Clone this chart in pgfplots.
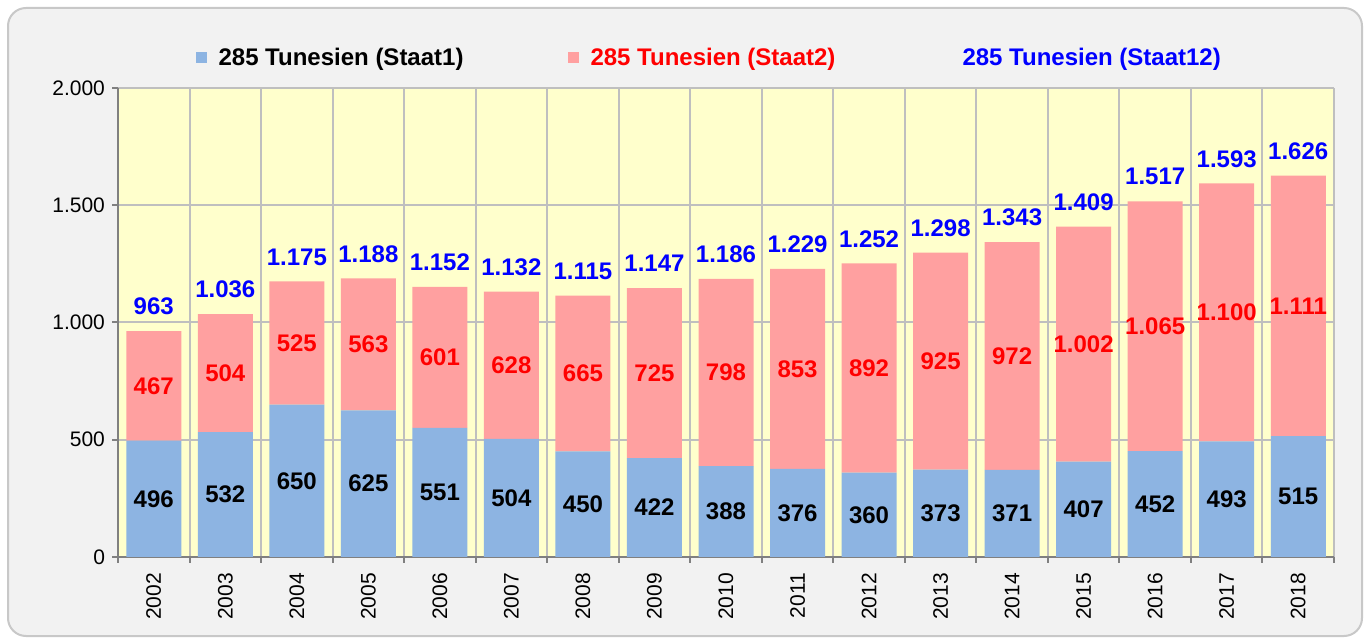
\documentclass[border=0pt]{standalone}
\usepackage{pgfplots}
\pgfplotsset{compat=1.18}
\usepackage{fontspec}
\setmainfont{Liberation Sans}

\definecolor{barblue}{RGB}{141,180,226}
\definecolor{barpink}{RGB}{255,160,160}
\definecolor{bgyellow}{RGB}{255,255,204}
\definecolor{outergray}{RGB}{242,242,242}
\definecolor{framegray}{RGB}{200,200,200}
\definecolor{gridgray}{RGB}{191,191,191}
\definecolor{axisgray}{RGB}{128,128,128}
\definecolor{lblblue}{RGB}{0,0,255}
\definecolor{lblred}{RGB}{255,0,0}

\pgfplotsset{
  sq legend/.style={legend image code/.code={\fill[##1] (0pt,-2.75pt) rectangle (5.5pt,2.75pt);}},
  no legend img/.style={legend image code/.code={\path[draw=none,fill=none] (0pt,-2.75pt) rectangle (5.5pt,2.75pt);}},
  frame axis/.style={
    at={(59pt,42.5pt)}, anchor=south west,
    scale only axis,
    width=608pt, height=234.5pt,
    xmin=-0.5, xmax=16.5,
    ymin=0, ymax=2000,
  },
}

\begin{document}
\begin{tikzpicture}
\useasboundingbox (0,0) rectangle (684.5pt,321pt);
\draw[framegray, line width=1pt, fill=outergray, rounded corners=9pt] (4pt,3pt) rectangle (681pt,317pt);
\begin{axis}[
    frame axis,
    ybar stacked,
    bar width=27.5pt,
    axis x line*=bottom,
    axis y line*=left,
    axis line style={-, draw=axisgray, line width=1pt},
    axis background/.style={fill=bgyellow},
    ytick={0,500,1000,1500,2000},
    xtick={-0.5,0.5,...,16.5},
    xticklabels={},
    extra x ticks={0,1,...,16},
    extra x tick labels={2002,2003,2004,2005,2006,2007,2008,2009,2010,2011,2012,2013,2014,2015,2016,2017,2018},
    extra x tick style={major tick length=0pt, xmajorgrids=false,
        xticklabel shift=4.5pt,
        xticklabel style={rotate=90, anchor=east}},
    grid=major,
    grid style={gridgray, line width=1pt},
    tick align=outside,
    major tick length=3pt,
    tick style={axisgray, line width=1pt},
    ticklabel style={font=\fontsize{10.5}{12}\selectfont, black},
    /pgf/number format/.cd, 1000 sep={.}, assume math mode=true,
    /pgfplots/.cd,
    legend columns=3,
    legend style={at={(0.487,1.064)}, anchor=center, draw=none, fill=none,
        font=\bfseries\fontsize{12}{14}\selectfont,
        /tikz/every odd column/.append style={column sep=4pt},
        /tikz/every even column/.append style={column sep=50pt}},
]

% Staat1 (bottom)
\addplot[fill=barblue, draw=none, sq legend,
    nodes near coords,
    every node near coord/.append style={black, anchor=center,
        font=\bfseries\fontsize{12}{14}\selectfont}]
coordinates {
    (0,496) (1,532) (2,650) (3,625) (4,551) (5,504) (6,450) (7,422) (8,388)
    (9,376) (10,360) (11,373) (12,371) (13,407) (14,452) (15,493) (16,515)
};
\addlegendentry{285 Tunesien (Staat1)}

% Staat2 (top)
\addplot[fill=barpink, draw=none, sq legend,
    nodes near coords,
    every node near coord/.append style={lblred, anchor=center,
        font=\bfseries\fontsize{12}{14}\selectfont}]
coordinates {
    (0,467) (1,504) (2,525) (3,563) (4,601) (5,628) (6,665) (7,725) (8,798)
    (9,853) (10,892) (11,925) (12,972) (13,1002) (14,1065) (15,1100) (16,1111)
};
\addlegendentry{\textcolor{lblred}{285 Tunesien (Staat2)}}

\addlegendimage{no legend img}
\addlegendentry{\textcolor{lblblue}{285 Tunesien (Staat12)}}
\end{axis}

% Staat12 totals (labels only)
\begin{axis}[
    frame axis,
    hide axis,
    /pgf/number format/.cd, 1000 sep={.}, assume math mode=true,
]
\addplot[draw=none, mark=none,
    nodes near coords,
    every node near coord/.append style={lblblue, anchor=south,
        font=\bfseries\fontsize{12}{14}\selectfont, yshift=4.5pt}]
coordinates {
    (0,963) (1,1036) (2,1175) (3,1188) (4,1152) (5,1132) (6,1115) (7,1147) (8,1186)
    (9,1229) (10,1252) (11,1298) (12,1343) (13,1409) (14,1517) (15,1593) (16,1626)
};
\end{axis}
\end{tikzpicture}
\end{document}
